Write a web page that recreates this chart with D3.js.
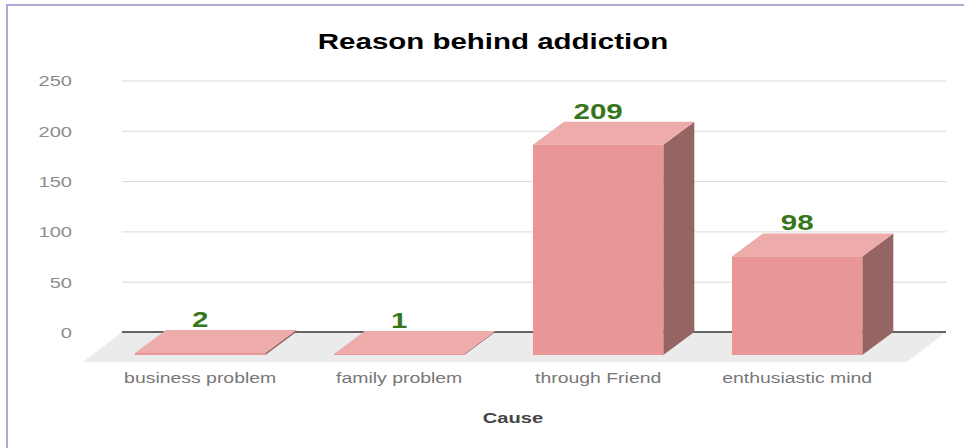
<!DOCTYPE html>
<html lang="en">
	<head>
		<meta charset="utf-8">
		<title>Reason behind addiction</title>
		<script type="text/javascript" src="https://cdn.jsdelivr.net/npm/d3@7"></script>
		<style type="text/css">
			body { margin: 0; background: #fff; }
			text { font-family: "Liberation Sans", Arial, sans-serif; }
			.Axis text { fill: #8c8c8c; font-size: 15px; }
			.Axis line { stroke: #d9d9d9; }
		</style>
	</head>
	<body>
		<script type="text/javascript">

			// data
			var categories = ["business problem", "family problem", "through Friend", "enthusiastic mind"];
			var values = [2, 1, 209, 98];
			var yTicks = [0, 50, 100, 150, 200, 250];

			var w = 964;
			var h = 448;
			var sx = 1.34;          // the screenshot is stretched sideways

			// back wall of the plot
			var plotLeft = 122, plotRight = 946, plotBase = 332, plotTop = 80.5;
			var floorDx = -39, floorDy = 30;   // floor front edge offset
			var barDx = -31, barDy = 23;       // bar depth

			var xScale = d3.scaleBand()
				.domain(categories)
				.range([plotLeft, plotRight])
				.paddingInner(0.345)
				.paddingOuter(0.243)
				.align(0.455);

			var yScale = d3.scaleLinear()
				.domain([0, 250])
				.range([plotBase, plotTop]);

			var svg = d3.select("body")
				.append("svg")
				.attr("width", w)
				.attr("height", h);

			// frame
			svg.append("line")
				.attr("x1", 6).attr("x2", w).attr("y1", 5).attr("y2", 5)
				.attr("stroke", "#b4a7d6").attr("stroke-width", 2);
			svg.append("line")
				.attr("x1", 7).attr("x2", 7).attr("y1", 4).attr("y2", h)
				.attr("stroke", "#b4a7d6").attr("stroke-width", 2);

			// title
			svg.append("text")
				.attr("transform", "translate(493,49) scale(" + sx + ",1)")
				.attr("text-anchor", "middle")
				.style("font-size", "22px")
				.style("font-weight", "bold")
				.attr("fill", "#000")
				.text("Reason behind addiction");

			// floor
			svg.append("polygon")
				.attr("points", [[plotLeft, plotBase], [plotRight, plotBase], [plotRight + floorDx, plotBase + floorDy], [plotLeft + floorDx, plotBase + floorDy]].join(" "))
				.attr("fill", "#ebebeb");

			// grid + tick labels
			var yAxis = d3.axisLeft(yScale)
				.tickValues(yTicks)
				.tickSize(-(plotRight - plotLeft))
				.tickFormat(d3.format("d"));

			var gy = svg.append("g")
				.classed("Axis", true)
				.attr("transform", "translate(" + plotLeft + ",0)")
				.call(yAxis);
			gy.select(".domain").remove();
			gy.selectAll(".tick line").filter(function(d) { return d === 0; }).remove();
			gy.selectAll(".tick text")
				.attr("x", 0)
				.attr("dy", "0.36em")
				.attr("transform", "translate(-50,0) scale(" + sx + ",1)");

			// zero line
			svg.append("line")
				.attr("x1", plotLeft).attr("x2", plotRight)
				.attr("y1", yScale(0)).attr("y2", yScale(0))
				.attr("stroke", "#333").attr("stroke-width", 1.5);

			// bars
			var bw = xScale.bandwidth();
			var bars = svg.selectAll(".bar")
				.data(values)
				.enter()
				.append("g")
				.attr("class", "bar");

			bars.append("polygon")   // side
				.attr("points", function(d, i) {
					var x0 = xScale(categories[i]), yt = yScale(d), yb = yScale(0);
					return [[x0 + bw + barDx, yt + barDy], [x0 + bw, yt], [x0 + bw, yb], [x0 + bw + barDx, yb + barDy]].join(" ");
				})
				.attr("fill", "#966462");

			bars.append("polygon")   // top
				.attr("points", function(d, i) {
					var x0 = xScale(categories[i]), yt = yScale(d);
					return [[x0 + barDx, yt + barDy], [x0 + bw + barDx, yt + barDy], [x0 + bw, yt], [x0, yt]].join(" ");
				})
				.attr("fill", "#edabaa");

			bars.append("rect")      // front
				.attr("x", function(d, i) { return xScale(categories[i]) + barDx; })
				.attr("y", function(d) { return yScale(d) + barDy; })
				.attr("width", bw)
				.attr("height", function(d) { return yScale(0) - yScale(d); })
				.attr("fill", "#e99697");

			// value labels
			svg.selectAll(".val")
				.data(values)
				.enter()
				.append("text")
				.attr("class", "val")
				.attr("transform", function(d, i) {
					return "translate(" + (xScale(categories[i]) + barDx + bw / 2) + "," + (yScale(d) - 3) + ") scale(" + sx + ",1)";
				})
				.attr("text-anchor", "middle")
				.style("font-size", "22px")
				.style("font-weight", "bold")
				.attr("fill", "#38761d")
				.text(function(d) { return d; });

			// category labels
			svg.selectAll(".cat")
				.data(categories)
				.enter()
				.append("text")
				.attr("class", "cat")
				.attr("transform", function(d) {
					return "translate(" + (xScale(d) + barDx + bw / 2) + ",383) scale(" + sx + ",1)";
				})
				.attr("text-anchor", "middle")
				.style("font-size", "14.5px")
				.attr("fill", "#777")
				.text(function(d) { return d; });

			// axis title
			svg.append("text")
				.attr("transform", "translate(513,423) scale(" + sx + ",1)")
				.attr("text-anchor", "middle")
				.style("font-size", "15px")
				.style("font-weight", "bold")
				.attr("fill", "#444")
				.text("Cause");

		</script>
	</body>
</html>
